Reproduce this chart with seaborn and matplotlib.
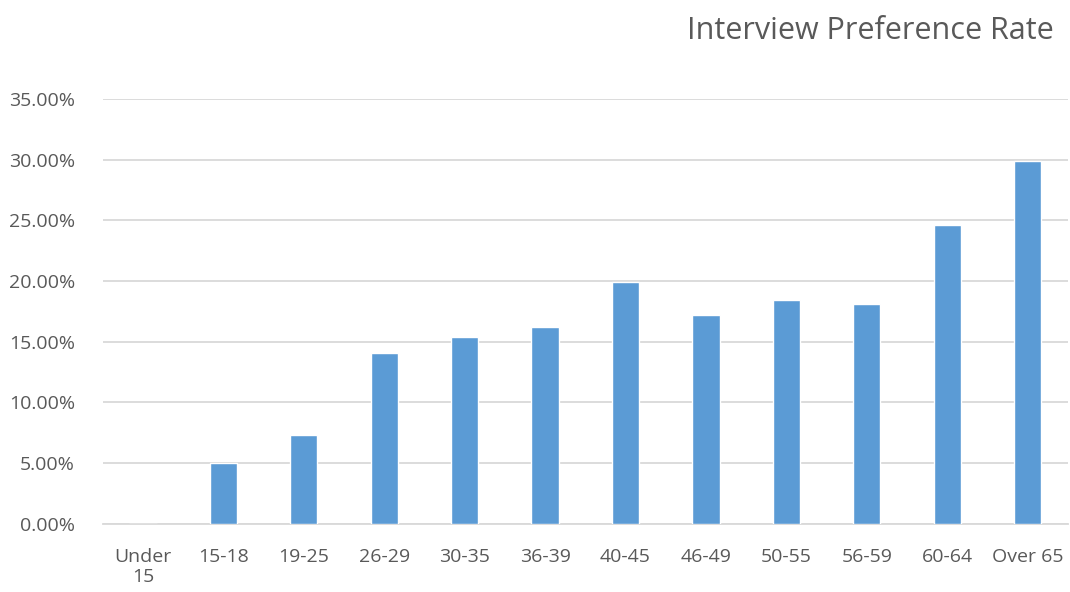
import pandas as pd
import numpy as np
import seaborn as sns
import matplotlib.pyplot as plt
from matplotlib.ticker import PercentFormatter

# age groups and preference rate (fraction)
groups = ['Under\n15', '15-18', '19-25', '26-29', '30-35', '36-39',
          '40-45', '46-49', '50-55', '56-59', '60-64', 'Over 65']
rates = [0.0, 0.050, 0.073, 0.141, 0.154, 0.162,
         0.199, 0.172, 0.184, 0.181, 0.246, 0.299]
yticks = [0, 0.05, 0.10, 0.15, 0.20, 0.25, 0.30, 0.35]

sns.set_theme(style='white')
plt.rcParams['font.family'] = ['Open Sans', 'DejaVu Sans']

data = pd.DataFrame({'group': groups, 'rate': rates})

fig = plt.figure(figsize=(10.7, 5.92), dpi=100)
ax = fig.add_axes([0.096, 0.115, 0.902, 0.718])

sns.barplot(data=data, x='group', y='rate', color='#5b9bd5', saturation=1,
            width=0.34, ax=ax, zorder=3)

ax.set_ylim(0, 0.35)
ax.set_yticks(yticks)
ax.yaxis.set_major_formatter(PercentFormatter(1.0, decimals=2))
ax.grid(axis='y', color='#d9d9d9', linewidth=1.3, zorder=0)
ax.set_axisbelow(True)
for s in ['top', 'right', 'left']:
    ax.spines[s].set_visible(False)
ax.spines['bottom'].set_color('#d9d9d9')
ax.spines['bottom'].set_linewidth(1.3)
ax.tick_params(axis='both', length=0, labelsize=14, colors='#595959')
ax.tick_params(axis='y', pad=20)
ax.tick_params(axis='x', pad=17)
ax.set_xlabel('')
ax.set_ylabel('')

fig.text(0.985, 0.948, 'Interview Preference Rate', ha='right', va='center',
         fontsize=22, color='#595959')

fig.savefig('out.png', dpi=100)
